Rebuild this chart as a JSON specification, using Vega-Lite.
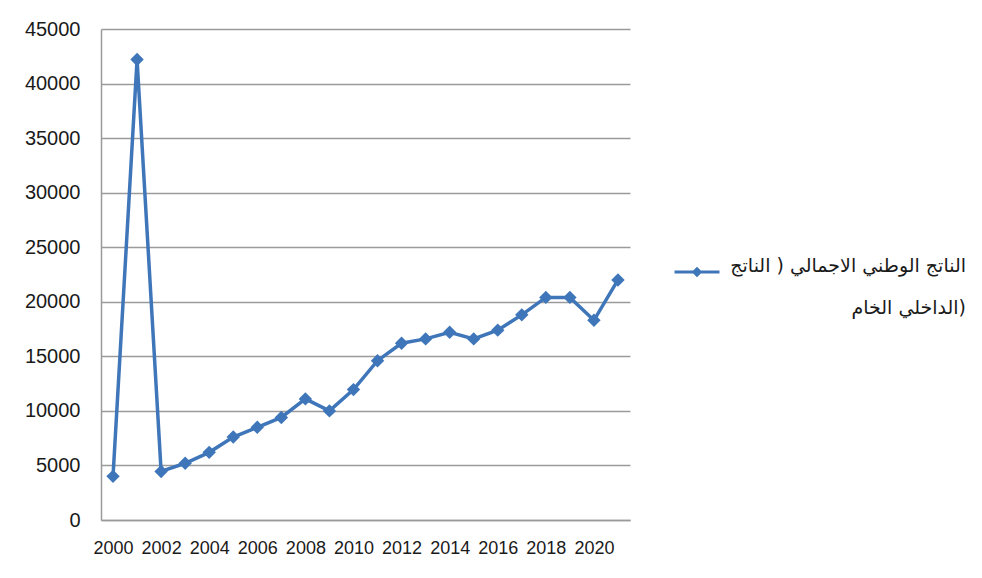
{
  "$schema": "https://vega.github.io/schema/vega-lite/v6.json",
  "width": 529,
  "height": 491,
  "autosize": {"type": "none"},
  "padding": {"left": 101, "top": 29, "right": 352, "bottom": 58},
  "background": "white",
  "config": {
    "view": {"stroke": null},
    "font": "Liberation Sans",
    "style": {"guide-label": {"lineHeight": 42}}
  },
  "data": {
    "values": [
      {"year": 2000, "value": 4000},
      {"year": 2001, "value": 42200},
      {"year": 2002, "value": 4450},
      {"year": 2003, "value": 5200},
      {"year": 2004, "value": 6200},
      {"year": 2005, "value": 7600},
      {"year": 2006, "value": 8500},
      {"year": 2007, "value": 9400},
      {"year": 2008, "value": 11100},
      {"year": 2009, "value": 10000},
      {"year": 2010, "value": 11950},
      {"year": 2011, "value": 14600},
      {"year": 2012, "value": 16200},
      {"year": 2013, "value": 16600},
      {"year": 2014, "value": 17200},
      {"year": 2015, "value": 16600},
      {"year": 2016, "value": 17400},
      {"year": 2017, "value": 18800},
      {"year": 2018, "value": 20400},
      {"year": 2019, "value": 20400},
      {"year": 2020, "value": 18300},
      {"year": 2021, "value": 22000}
    ]
  },
  "mark": {
    "type": "line",
    "strokeWidth": 3.5,
    "point": {"shape": "diamond", "size": 180, "filled": true, "opacity": 1}
  },
  "encoding": {
    "x": {
      "field": "year",
      "type": "ordinal",
      "scale": {"type": "point", "padding": 0.5},
      "axis": {
        "title": null,
        "values": [2000, 2002, 2004, 2006, 2008, 2010, 2012, 2014, 2016, 2018, 2020],
        "labelAngle": 0,
        "labelFontSize": 18,
        "labelColor": "#1a1a1a",
        "labelPadding": 19,
        "ticks": false,
        "domainColor": "#9a9a9a",
        "domainWidth": 1.5,
        "grid": false
      }
    },
    "y": {
      "field": "value",
      "type": "quantitative",
      "scale": {"domain": [0, 45000], "nice": false},
      "axis": {
        "title": null,
        "values": [0, 5000, 10000, 15000, 20000, 25000, 30000, 35000, 40000, 45000],
        "format": "d",
        "labelFontSize": 20,
        "labelColor": "#1a1a1a",
        "labelPadding": 21,
        "ticks": false,
        "domainColor": "#9a9a9a",
        "domainWidth": 1.5,
        "grid": true,
        "gridColor": "#9a9a9a",
        "gridWidth": 1.5
      }
    },
    "color": {
      "datum": "الناتج الوطني الاجمالي ( الناتج الداخلي الخام)",
      "type": "nominal",
      "scale": {"range": ["#3f76b9"]},
      "legend": {
        "title": null,
        "orient": "none",
        "legendX": 572,
        "legendY": 219,
        "symbolType": "M-1,0H1M0,-0.14L0.14,0L0,0.14L-0.14,0Z",
        "symbolSize": 2025,
        "symbolStrokeWidth": 3,
        "symbolFillColor": "#3f76b9",
        "symbolStrokeColor": "#3f76b9",
        "labelExpr": "['الناتج الوطني الاجمالي ( الناتج', '\u200eالداخلي الخام)']",
        "labelFont": "DejaVu Sans",
        "labelFontSize": 19,
        "labelColor": "#1a1a1a",
        "labelLimit": 0,
        "labelAlign": "right",
        "labelOffset": 245,
        "labelBaseline": "alphabetic"
      }
    }
  }
}
